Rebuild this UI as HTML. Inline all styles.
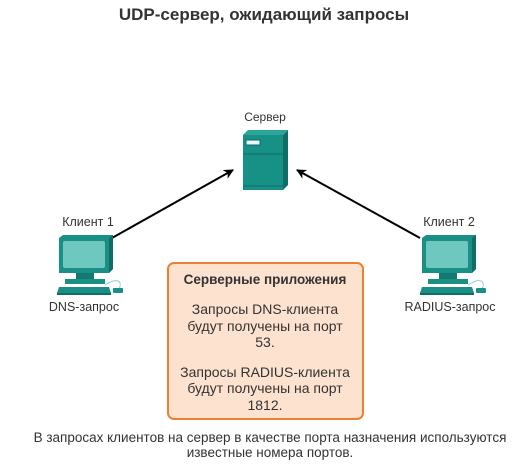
<!DOCTYPE html>
<html><head><meta charset="utf-8"><style>
body{margin:0;background:#fff;}
svg{display:block;font-family:"Liberation Sans",Arial,sans-serif;}
</style></head><body>
<svg width="528" height="464" viewBox="0 0 528 464" xmlns="http://www.w3.org/2000/svg">
<defs>
<marker id="ah" markerWidth="10" markerHeight="10" refX="9" refY="5" orient="auto" markerUnits="userSpaceOnUse">
<path d="M0,0 L10,5 L0,10 L3,5 Z" fill="#000"/>
</marker>
<g id="pc">
<path d="M0,3 L4,0 L54,0 L54,34 L50,38 L0,38 Z" fill="#1a8f86"/>
<path d="M50,3 L54,0 L54,34 L50,38 Z" fill="#0f6d66"/>
<rect x="4" y="6" width="42" height="27" rx="2" fill="#6ec8c0"/>
<rect x="17" y="38" width="18" height="6" fill="#137a72"/>
<rect x="6" y="44" width="40" height="5" fill="#1a8f86"/>
<path d="M0,52 L50,52 L52,58 L-2,58 Z" fill="#1a8f86"/>
<rect x="-2" y="58" width="54" height="2" fill="#0f6d66"/>
<path d="M46,50 C58,42 64,46 60,54" stroke="#9ccfcb" fill="none" stroke-width="1"/>
<rect x="54" y="53" width="10" height="5" rx="1" fill="#1a8f86"/>
</g>
</defs>
<text x="264" y="20" text-anchor="middle" font-size="17" font-weight="bold" fill="#333">UDP-сервер, ожидающий запросы</text>
<text x="265" y="121" text-anchor="middle" font-size="12" fill="#333">Сервер</text>
<path d="M243,135 L248,130 L288,130 L283,135 Z" fill="#2aa59a"/>
<rect x="243" y="135" width="40" height="55" fill="#179086"/>
<path d="M283,135 L288,130 L288,185 L283,190 Z" fill="#0f6d66"/>
<rect x="246" y="140" width="14" height="5" fill="#e8f7f5" stroke="#0f6d66" stroke-width="1"/>
<line x1="243" y1="154" x2="283" y2="154" stroke="#0f6d66"/>
<line x1="243" y1="186" x2="283" y2="186" stroke="#0f6d66"/>
<line x1="112" y1="238" x2="233" y2="170" stroke="#000" stroke-width="2" marker-end="url(#ah)"/>
<line x1="420" y1="238" x2="297" y2="170" stroke="#000" stroke-width="2" marker-end="url(#ah)"/>
<text x="88" y="226" text-anchor="middle" font-size="12.5" fill="#333">Клиент 1</text>
<use href="#pc" x="59" y="235"/>
<text x="84" y="311" text-anchor="middle" font-size="12.5" fill="#333">DNS-запрос</text>
<text x="449" y="226" text-anchor="middle" font-size="12.5" fill="#333">Клиент 2</text>
<use href="#pc" x="422" y="235"/>
<text x="450" y="311" text-anchor="middle" font-size="12.5" fill="#333">RADIUS-запрос</text>
<rect x="168" y="263" width="195" height="156" rx="6" fill="#fde2cf" stroke="#ee8131" stroke-width="2"/>
<g font-size="14" fill="#333" text-anchor="middle">
<text x="265" y="284" font-weight="bold" font-size="13.5">Серверные приложения</text>
<text x="265" y="314">Запросы DNS-клиента</text>
<text x="265" y="331">будут получены на порт</text>
<text x="265" y="347">53.</text>
<text x="265" y="377">Запросы RADIUS-клиента</text>
<text x="265" y="393">будут получены на порт</text>
<text x="265" y="410">1812.</text>
</g>
<g font-size="13.5" fill="#333" text-anchor="middle">
<text x="270" y="442">В запросах клиентов на сервер в качестве порта назначения используются</text>
<text x="270" y="457">известные номера портов.</text>
</g>
</svg>
</body></html>
